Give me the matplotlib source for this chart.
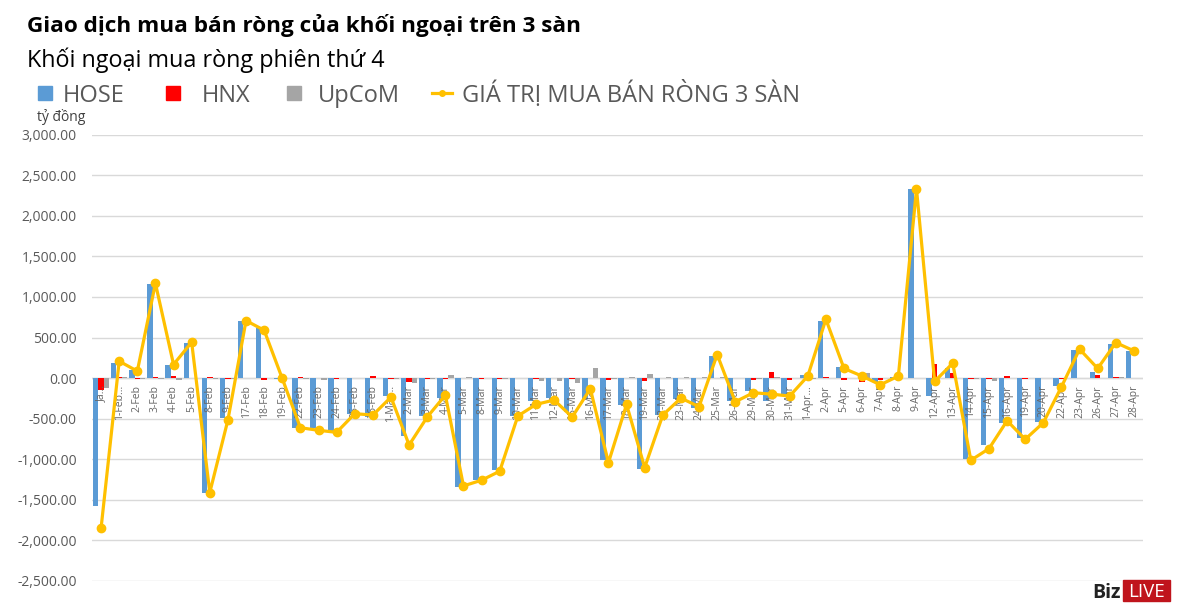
import matplotlib
matplotlib.use('Agg')
import matplotlib.pyplot as plt
import numpy as np
from matplotlib.patches import Rectangle
from matplotlib.lines import Line2D
from matplotlib.ticker import FuncFormatter

plt.rcParams['font.family'] = ['Open Sans', 'DejaVu Sans']

# Data (tỷ đồng)
dates = ['Ja...', '1-Feb...', '2-Feb', '3-Feb', '4-Feb', '5-Feb', '8-Feb', '9-Feb',
         '17-Feb', '18-Feb', '19-Feb', '22-Feb', '23-Feb', '24-Feb', '25-Feb', '26-Feb',
         '1-Mar...', '2-Mar', '3-Mar', '4-Mar', '5-Mar', '8-Mar', '9-Mar', '10-Mar',
         '11-Mar', '12-Mar', '15-Mar', '16-Mar', '17-Mar', '18-Mar', '19-Mar', '22-Mar',
         '23-Mar', '24-Mar', '25-Mar', '26-Mar', '29-Mar', '30-Mar', '31-Mar', '1-Apr...',
         '2-Apr', '5-Apr', '6-Apr', '7-Apr', '8-Apr', '9-Apr', '12-Apr', '13-Apr',
         '14-Apr', '15-Apr', '16-Apr', '19-Apr', '20-Apr', '22-Apr', '23-Apr', '26-Apr',
         '27-Apr', '28-Apr']

hose = [-1570, 185, 105, 1155, 160, 430, -1418, -490, 705, 615, -6, -620, -620, -660,
        -445, -480, -215, -713, -468, -240, -1345, -1250, -1135, -465, -280, -240, -415,
        -255, -1015, -330, -1115, -460, -255, -365, 275, -285, -155, -285, -205, 40, 708,
        140, 5, -50, 20, 2330, -215, 125, -995, -830, -552, -742, -545, -100, 350, 80,
        415, 335]

hnx = [-150, 10, -10, 18, 29, 5, 20, -16, 4, -28, 2, 18, -3, -6, 5, 28, -8, -45, -6, -8,
       5, -5, -7, -2, -10, -3, -5, 3, -20, -3, -33, -3, -3, -3, 6, -4, -18, 80, -18, -8,
       15, -20, -48, -28, 3, -4, 175, 62, -12, -8, 28, -10, -3, -6, 5, 35, 8, 3]

upcom = [-120, 14, -9, -5, -20, 5, -5, -10, 3, 3, 0, -9, -20, -2, 2, -3, -11, -57, -5, 40,
         12, -3, -5, 0, -34, -30, -58, 120, -6, 9, 45, 8, 12, 16, 10, -2, -7, 8, 2, -7, 2,
         -1, 68, -4, 2, 6, -1, -3, -5, -31, -1, -2, -1, -1, 2, 4, 15, -2]

total = [-1850, 209, 86, 1168, 168, 443, -1410, -516, 709, 590, -4, -611, -643, -668,
         -438, -455, -234, -824, -479, -209, -1328, -1258, -1147, -467, -324, -270, -479,
         -131, -1041, -324, -1102, -455, -246, -352, 291, -291, -180, -197, -221, 25, 725,
         119, 25, -82, 25, 2332, -41, 184, -1012, -869, -525, -754, -549, -107, 357, 119,
         438, 336]

series_names = ['HOSE', 'HNX', 'UpCoM', 'GIÁ TRỊ MUA BÁN RÒNG 3 SÀN']
colors = ['#5b9bd5', '#ff0000', '#a5a5a5', '#ffc000']

W, H = 1200, 614


def fx(px):
    return px / W


def fy(py):
    return 1 - py / H


fig = plt.figure(figsize=(W / 100, H / 100), dpi=100)
ax = fig.add_axes([fx(92), fy(581), (1143 - 92) / W, (581 - 134.7) / H])

x = np.arange(len(dates))
w = 0.3
ax.bar(x - w, hose, w, color=colors[0], zorder=2)
ax.bar(x, hnx, w, color=colors[1], zorder=2)
ax.bar(x + w, upcom, w, color=colors[2], zorder=2)
ax.plot(x, total, color=colors[3], lw=2.3, marker='o', ms=6, zorder=4)

ax.set_xlim(-0.5, len(dates) - 0.5)
ax.set_ylim(-2500, 3000)
ax.set_yticks(np.arange(-2500, 3001, 500))
ax.yaxis.set_major_formatter(FuncFormatter(lambda v, p: f'{v:,.2f}'))
ax.grid(axis='y', color='#d9d9d9', lw=1, zorder=0)
ax.axhline(0, color='#d9d9d9', lw=1, zorder=1)
ax.tick_params(axis='y', length=0, pad=11, labelsize=10, labelcolor='#595959')
ax.set_xticks([])
for s in ax.spines.values():
    s.set_visible(False)

# category labels sit just under the zero line
for i, d in enumerate(dates):
    ax.annotate(d, (i, 0), xytext=(0, -5), textcoords='offset points', rotation=90,
                ha='center', va='top', fontsize=7.5, color='#666666', zorder=3)

# titles
fig.text(fx(27), fy(32), 'Giao dịch mua bán ròng của khối ngoại trên 3 sàn',
         fontsize=16.2, fontweight='bold', color='black', va='baseline')
fig.text(fx(27), fy(67), 'Khối ngoại mua ròng phiên thứ 4',
         fontsize=16.8, color='black', va='baseline')

# legend drawn by hand
sq = 14
for px, c in [(38, colors[0]), (166, colors[1]), (287, colors[2])]:
    fig.add_artist(Rectangle((fx(px), fy(100)), sq / W, sq / H, color=c,
                             transform=fig.transFigure))
for px, name in [(63, series_names[0]), (202, series_names[1]),
                 (318, series_names[2]), (462, series_names[3])]:
    fig.text(fx(px), fy(102), name, fontsize=17, color='#595959', va='baseline')
fig.add_artist(Line2D([fx(432), fx(452)], [fy(93), fy(93)], color=colors[3], lw=2.3,
                      transform=fig.transFigure))
fig.add_artist(Line2D([fx(442)], [fy(93)], color=colors[3], marker='o', ms=4,
                      transform=fig.transFigure))

fig.text(fx(37), fy(121), 'tỷ đồng', fontsize=10, color='#404040', va='baseline')

# logo
fig.text(fx(1092), fy(598), 'Biz', fontsize=14, fontweight='bold', color='#222222',
         va='baseline')
fig.add_artist(Rectangle((fx(1123), fy(601)), 47 / W, 21 / H, color='#c0141c',
                         transform=fig.transFigure))
fig.text(fx(1146.5), fy(597), 'LIVE', fontsize=13.5, color='white', ha='center',
         va='baseline')

fig.savefig('out.png', dpi=100)
